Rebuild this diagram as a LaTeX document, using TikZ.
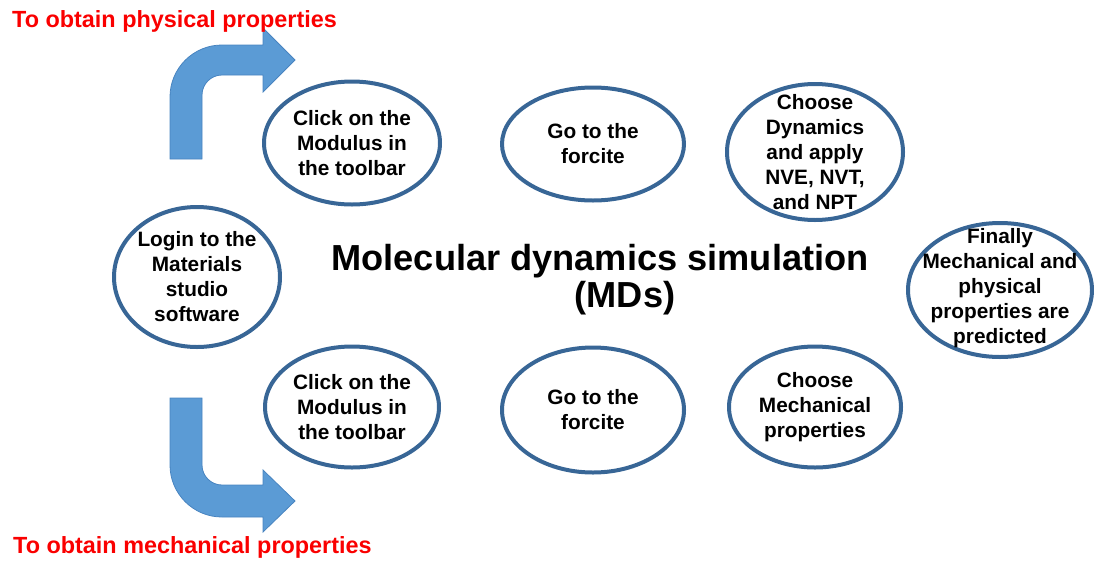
\documentclass[tikz,border=0pt]{standalone}
\usepackage{fontspec}
\setmainfont{Liberation Sans}
\usepackage{tikz}
\usetikzlibrary{shapes.geometric}
\definecolor{ringblue}{RGB}{56,102,150}
\definecolor{arrowblue}{RGB}{91,155,213}
\definecolor{arrowedge}{RGB}{72,132,192}
\definecolor{labelred}{RGB}{250,0,0}

\begin{document}
\begin{tikzpicture}[x=1pt,y=-1pt,
    bubble/.style={ellipse,draw=ringblue,line width=4pt,inner sep=0pt},
    bubbletext/.style={align=center,font=\fontsize{20.8}{25}\selectfont\bfseries},
    bentarrow/.style={fill=arrowblue,draw=arrowedge,line width=0.8pt},
    redlabel/.style={text=labelred,anchor=base west,inner sep=0pt,font=\fontsize{23.4}{27}\selectfont\bfseries},
    bigtitle/.style={anchor=base,inner sep=0pt,font=\fontsize{36.2}{42}\selectfont\bfseries}]
    \useasboundingbox (0,0) rectangle (1094,560);

    % left bubble
    \node[bubble,minimum width=166pt,minimum height=140pt] (login) at (197,277) {};
    \node[bubbletext] (logintxt) at (login) {Login to the\\Materials\\studio\\software};

    % upper row
    \node[bubble,minimum width=176pt,minimum height=123pt] (clicktop) at (352,143) {};
    \node[bubbletext] (clicktoptxt) at (clicktop) {Click on the\\Modulus in\\the toolbar};
    \node[bubble,minimum width=182pt,minimum height=113pt] (gotop) at (593,144) {};
    \node[bubbletext] (gotoptxt) at (gotop) {Go to the\\forcite};
    \node[bubble,minimum width=176pt,minimum height=136pt] (dynamics) at (815,152) {};
    \node[bubbletext] (dynamicstxt) at (dynamics) {Choose\\Dynamics\\and apply\\NVE, NVT,\\and NPT};

    % right bubble
    \node[bubble,minimum width=184pt,minimum height=134pt] (finally) at (1000,290) {};
    \node[bubbletext] (finallytxt) at (1000,288) {Finally\\Mechanical and\\physical\\properties are\\predicted};

    % lower row
    \node[bubble,minimum width=174pt,minimum height=121pt] (clickbot) at (352,407) {};
    \node[bubbletext] (clickbottxt) at (clickbot) {Click on the\\Modulus in\\the toolbar};
    \node[bubble,minimum width=182pt,minimum height=125pt] (gobot) at (593,410) {};
    \node[bubbletext] (gobottxt) at (gobot) {Go to the\\forcite};
    \node[bubble,minimum width=172pt,minimum height=121pt] (mechanical) at (815,407) {};
    \node[bubbletext] (mechanicaltxt) at (mechanical) {Choose\\Mechanical\\properties};

    % centre title
    \node[bigtitle] (mdtitle) at (600,270) {Molecular dynamics simulation};
    \node[bigtitle] (mdshort) at (625,307) {(MDs)};

    % bent arrows
    \draw[bentarrow] (170,159) -- (170,97) .. controls (170,68.3) and (193.3,45) .. (222,45)
        -- (263,45) -- (263,28) -- (295,60) -- (263,92) -- (263,75) -- (222,75)
        .. controls (211,75) and (202,84) .. (202,95) -- (202,159) -- cycle;
    \draw[bentarrow] (170,398) -- (170,465) .. controls (170,493.7) and (193.3,517) .. (222,517)
        -- (263,517) -- (263,532) -- (295,501) -- (263,470) -- (263,485) -- (222,485)
        .. controls (211,485) and (202,476) .. (202,465) -- (202,398) -- cycle;

    \node[redlabel] (physlabel) at (12,27) {To obtain physical properties};
    \node[redlabel] (mechlabel) at (13,553) {To obtain mechanical properties};
\end{tikzpicture}
\end{document}
